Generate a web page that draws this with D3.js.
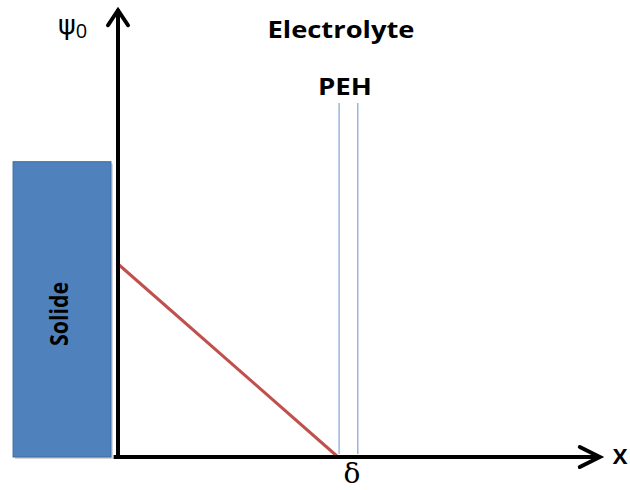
<!DOCTYPE html>
<html>
<head>
<meta charset="utf-8">
<script src="https://cdn.jsdelivr.net/npm/d3@7"></script>
<style>
	body { margin: 0; background: #fff; }
	svg { display: block; }
</style>
</head>
<body>
<div id="chart"></div>
<script>
"use strict";

const width = 630, height = 490;

//  Data (x in units of delta, psi in units of psi0)
const potentialX = [0, 1];
const potentialPsi = [1, 0];
const pehPlanes = [1.005, 1.09];
const solidX = [-0.477, -0.032];
const solidTop = 1.53;
const axisEndX = 2.19;
const axisEndPsi = 2.32;

const labels = {
	psi: 'ψ',
	psiSub: '0',
	x: 'X',
	delta: 'δ',
	peh: 'PEH',
	electrolyte: 'Electrolyte',
	solid: 'Solide'
};

//  Scales
const x = d3.scaleLinear().domain([0, 1]).range([118, 338]);
const y = d3.scaleLinear().domain([0, 1]).range([457, 264]);

const svg = d3.select('#chart').append('svg')
	.attr('width', width)
	.attr('height', height)
	.attr('viewBox', [0, 0, width, height]);

const sans = '"Open Sans", sans-serif';

//  Solid block
svg.append('rect')
	.attr('x', x(solidX[0]) + 2)
	.attr('y', y(solidTop) + 2)
	.attr('width', x(solidX[1]) - x(solidX[0]))
	.attr('height', y(0) - y(solidTop))
	.attr('fill', '#b8b8b8')
	.attr('opacity', 0.6);

svg.append('rect')
	.attr('x', x(solidX[0]))
	.attr('y', y(solidTop))
	.attr('width', x(solidX[1]) - x(solidX[0]))
	.attr('height', y(0) - y(solidTop))
	.attr('fill', '#4f81bd')
	.attr('stroke', '#3c6aa3')
	.attr('stroke-width', 1);

svg.append('text')
	.attr('transform', `translate(${(x(solidX[0]) + x(solidX[1])) / 2 + 6}, 314) rotate(-90)`)
	.attr('text-anchor', 'middle')
	.style('font-family', sans)
	.style('font-weight', 'bold')
	.style('font-size', '25px')
	.attr('fill', '#000')
	.attr('textLength', 64)
	.attr('lengthAdjust', 'spacingAndGlyphs')
	.text(labels.solid);

//  PEH planes
svg.selectAll('.peh')
	.data(pehPlanes)
	.join('line')
	.classed('peh', true)
	.attr('x1', d => x(d)).attr('x2', d => x(d))
	.attr('y1', 103).attr('y2', y(0) - 3)
	.attr('stroke', '#8eaad8')
	.attr('stroke-width', 1.3);

//  Potential profile
const line = d3.line()
	.x((d, i) => x(potentialX[i]))
	.y((d, i) => y(potentialPsi[i]));

svg.append('path')
	.attr('d', line(potentialX))
	.attr('fill', 'none')
	.attr('stroke', '#c0504d')
	.attr('stroke-width', 3);

//  Axes
const axisColor = '#000';
svg.append('line')
	.attr('x1', x(0)).attr('x2', x(0))
	.attr('y1', y(0) + 2).attr('y2', y(axisEndPsi))
	.attr('stroke', axisColor)
	.attr('stroke-width', 4);

svg.append('line')
	.attr('x1', x(-0.02)).attr('x2', x(axisEndX))
	.attr('y1', y(0)).attr('y2', y(0))
	.attr('stroke', axisColor)
	.attr('stroke-width', 4);

// arrow heads
const head = 16, spread = 10;
svg.append('path')
	.attr('d', `M${x(0) - spread},${y(axisEndPsi) + head} L${x(0)},${y(axisEndPsi) + 1} L${x(0) + spread},${y(axisEndPsi) + head}`)
	.attr('fill', 'none')
	.attr('stroke', axisColor)
	.attr('stroke-width', 4)
	.attr('stroke-linecap', 'round');

svg.append('path')
	.attr('d', `M${x(axisEndX) - head - 4},${y(0) - spread} L${x(axisEndX)},${y(0)} L${x(axisEndX) - head - 4},${y(0) + spread}`)
	.attr('fill', 'none')
	.attr('stroke', axisColor)
	.attr('stroke-width', 4)
	.attr('stroke-linecap', 'round');

//  Labels
const psiLabel = svg.append('text')
	.attr('x', 58)
	.attr('y', 34)
	.style('font-family', '"DejaVu Sans", sans-serif')
	.style('font-size', '27px')
	.attr('fill', '#000');
psiLabel.append('tspan').text(labels.psi);
psiLabel.append('tspan')
	.attr('dy', 4)
	.attr('dx', 0)
	.style('font-family', sans)
	.style('font-size', '20px')
	.text(labels.psiSub);

svg.append('text')
	.attr('x', 620)
	.attr('y', 464)
	.attr('text-anchor', 'middle')
	.style('font-family', sans)
	.style('font-weight', 'bold')
	.style('font-size', '22px')
	.attr('fill', '#000')
	.text(labels.x);

svg.append('text')
	.attr('x', 352)
	.attr('y', 483)
	.attr('text-anchor', 'middle')
	.style('font-family', '"DejaVu Serif", serif')
	.style('font-size', '28px')
	.attr('fill', '#000')
	.text(labels.delta);

svg.append('text')
	.attr('x', 345)
	.attr('y', 95)
	.attr('text-anchor', 'middle')
	.style('font-family', sans)
	.style('font-weight', 'bold')
	.style('font-size', '23px')
	.attr('fill', '#000')
	.attr('textLength', 54)
	.attr('lengthAdjust', 'spacingAndGlyphs')
	.text(labels.peh);

svg.append('text')
	.attr('x', 341)
	.attr('y', 38)
	.attr('text-anchor', 'middle')
	.style('font-family', sans)
	.style('font-weight', 'bold')
	.style('font-size', '23px')
	.attr('fill', '#000')
	.attr('textLength', 147)
	.attr('lengthAdjust', 'spacingAndGlyphs')
	.text(labels.electrolyte);
</script>
</body>
</html>
